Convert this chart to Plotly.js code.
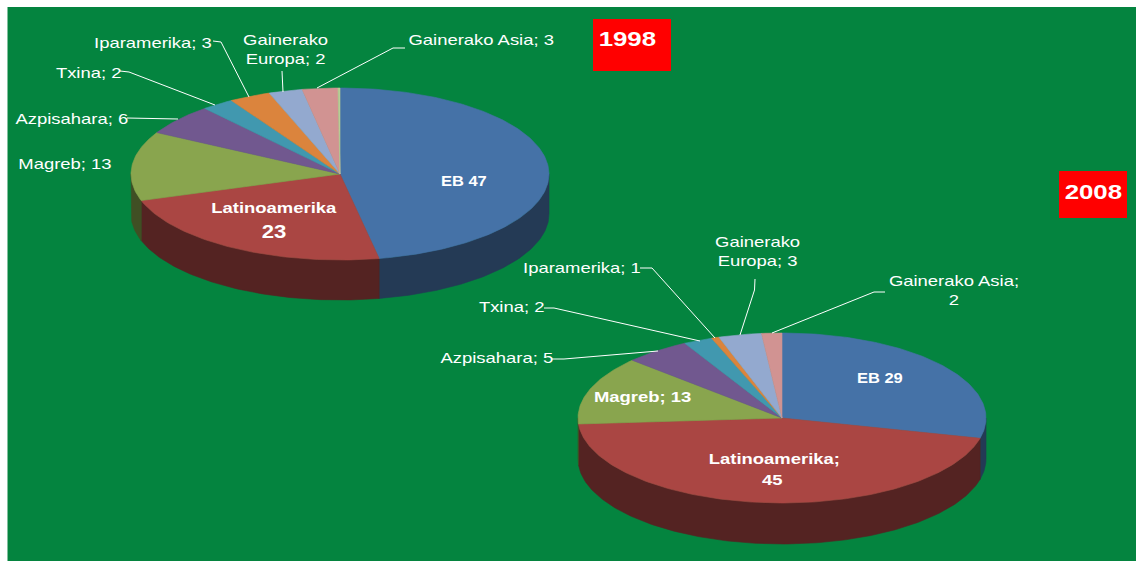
<!DOCTYPE html>
<html>
<head>
<meta charset="utf-8">
<script src="https://cdn.plot.ly/plotly-3.0.1.min.js"></script>
<style>
html,body{margin:0;padding:0;background:#fff;overflow:hidden}
#chart{width:1136px;height:561px}
text.annotation-text{transform-box:fill-box;transform-origin:center;}
</style>
</head>
<body>
<div id="chart"></div>
<script>
// Data: slice sizes (the chart's printed labels are rounded)
const categories = ["EB","Latinoamerika","Magreb","Azpisahara","Txina","Iparamerika","Gainerako Europa","Gainerako Asia","Beste"];
const values1998 = [47,23,13,5.8,2.5,3.2,2.6,2.75,0.15];
const values2008 = [28.8,45,13,5.2,2.3,0.6,3.4,1.6,0];

// Styles
const topColors  = ["#4572A7","#AA4643","#89A54E","#71588F","#4198AF","#DB843D","#93A9CF","#D19392","#B9CD96"];
const wallColors = ["#243A55","#542322","#404F24","#38294A","#1F4F5B","#6F4220","#4A5468","#684948","#5C664B"];
const BG = "#04843F";

// Pie geometry in pixel-aligned axis units
const pie1998 = {cx:340, cy:174, rx:209, ry:86, depth:40};
const pie2008 = {cx:782, cy:418, rx:204, ry:85, depth:41};

function arc(p, a, b, dy) {
  const xs = [], ys = [], n = Math.max(2, Math.ceil(Math.abs(b - a)));
  for (let i = 0; i <= n; i++) {
    const t = (a + (b - a) * i / n) * Math.PI / 180;
    xs.push(p.cx + p.rx * Math.sin(t));
    ys.push(p.cy - p.ry * Math.cos(t) + dy);
  }
  return {xs, ys};
}
function fillTrace(x, y, color) {
  return {type:"scatter", mode:"lines", x, y, fill:"toself", fillcolor:color,
          line:{color, width:0.6}, hoverinfo:"skip", showlegend:false};
}
function pieTraces(vals, p) {
  const total = vals.reduce((s, v) => s + v, 0);
  const walls = [], tops = [];
  let acc = 0;
  vals.forEach((v, i) => {
    if (v <= 0) return;
    const a = acc / total * 360, b = (acc + v) / total * 360;
    acc += v;
    const wa = Math.max(a, 90), wb = Math.min(b, 270);
    if (wb > wa) {
      const up = arc(p, wa, wb, 0), dn = arc(p, wb, wa, p.depth);
      walls.push(fillTrace(up.xs.concat(dn.xs, [up.xs[0]]), up.ys.concat(dn.ys, [up.ys[0]]), wallColors[i]));
    }
    const t = arc(p, a, b, 0);
    tops.push(fillTrace([p.cx].concat(t.xs, [p.cx]), [p.cy].concat(t.ys, [p.cy]), topColors[i]));
  });
  return walls.concat(tops);
}

const traces = pieTraces(values1998, pie1998).concat(pieTraces(values2008, pie2008));

const FONT = "Liberation Sans, Arial, sans-serif";
function lab(text, x, y, size, bold) {
  return {text: bold ? text.split("<br>").map(s => "<b>" + s + "</b>").join("<br>") : text,
          x, y, xref:"x", yref:"y", showarrow:false, xanchor:"center", yanchor:"middle", align:"center",
          font:{family:FONT, size:size, color:"#FFFFFF"}};
}
const annotations = [
  lab("1998", 627, 38, 21, true),
  lab("2008", 1093, 191, 21, true),
  lab("Iparamerika; 3", 153, 42, 15),
  lab("Gainerako<br>Europa; 2", 285, 49, 15),
  lab("Gainerako Asia; 3", 481, 39, 15),
  lab("Txina; 2", 88, 72, 15),
  lab("Azpisahara; 6", 72, 118, 15),
  lab("Magreb; 13", 65, 163, 15),
  lab("EB 47", 464, 180, 15, true),
  lab("Latinoamerika", 274, 207, 15, true),
  lab("23", 274, 232, 18, true),
  lab("Gainerako<br>Europa; 3", 757, 251, 15),
  lab("Gainerako Asia;<br>2", 954, 290, 15),
  lab("Iparamerika; 1", 582, 267, 15),
  lab("Txina; 2", 511, 306, 15),
  lab("Azpisahara; 5", 497, 357, 15),
  lab("EB 29", 880, 377, 15, true),
  lab("Magreb; 13", 642, 396, 15, true),
  lab("Latinoamerika;", 774, 458, 15, true),
  lab("45", 772, 479, 15, true)
];

function leader(d) {
  return {type:"path", path:d, xref:"x", yref:"y", line:{color:"#FFFFFF", width:1}, layer:"above"};
}
const shapes = [
  {type:"rect", xref:"x", yref:"y", x0:7.5, x1:1136, y0:7, y1:561, fillcolor:BG, line:{width:0}, layer:"below"},
  {type:"rect", xref:"x", yref:"y", x0:593, x1:671, y0:19, y1:71, fillcolor:"#FF0000", line:{width:0}, layer:"below"},
  {type:"rect", xref:"x", yref:"y", x0:1059, x1:1127, y0:171, y1:218, fillcolor:"#FF0000", line:{width:0}, layer:"below"},
  leader("M213,41 L221,42 L249,97"),
  leader("M120,71 L129,72 L215,105"),
  leader("M127,118 L178,119"),
  leader("M282,71 L283,92"),
  leader("M405,48 L393,48 L317,88"),
  leader("M640,268 L652,268 L715,338"),
  leader("M544,308 L554,308 L700,341"),
  leader("M552,359 L564,359 L658,351"),
  leader("M755,279 L754.5,290 L740,335"),
  leader("M885,292 L874,292 L772,333")
];

const layout = {
  width:1136, height:561, margin:{l:0,r:0,t:0,b:0},
  paper_bgcolor:"#FFFFFF", plot_bgcolor:"#FFFFFF", showlegend:false,
  xaxis:{range:[0,1136], visible:false, fixedrange:true},
  yaxis:{range:[561,0], visible:false, fixedrange:true},
  shapes, annotations, hovermode:false
};
Plotly.newPlot("chart", traces, layout, {displayModeBar:false, staticPlot:true}).then(function () {
  // The reference's text is stretched sideways; widen each label about its own centre.
  document.querySelectorAll("#chart text.annotation-text").forEach(function (el) {
    const k = el.textContent.indexOf("EB") === 0 ? 1.1 : 1.23;
    el.style.transform = "scaleX(" + k + ")";
  });
});
</script>
</body>
</html>
